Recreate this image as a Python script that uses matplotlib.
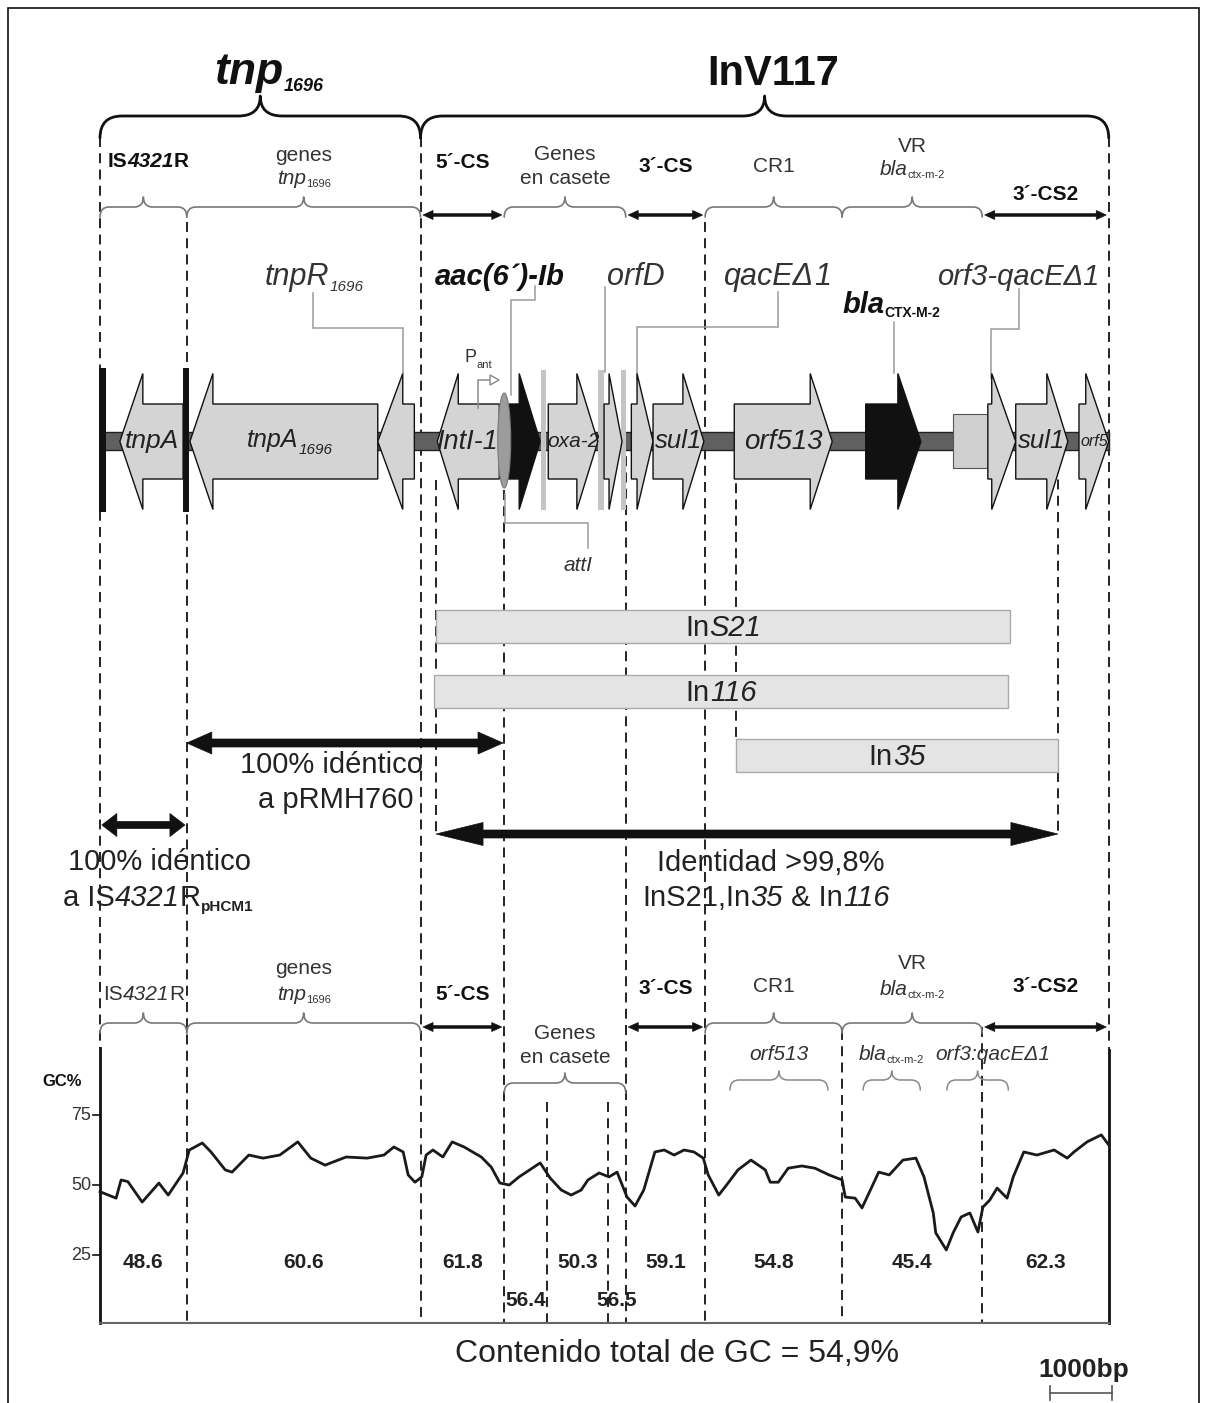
import matplotlib
matplotlib.use('Agg')
import matplotlib.pyplot as plt
from matplotlib.path import Path
from matplotlib.patches import PathPatch, Polygon, Rectangle, Ellipse

# ------------------------------------------------------------------ data
TOTAL_BP = 16270

GENE_LABELS = ['tnpA', 'tnpA|1696', '', 'IntI-1', '', 'oxa-2', '', '', 'sul1',
               'orf513', '', '', 'sul1', 'orf5']
GENE_FROM = [1340, 4480, 5070, 6440, 6580, 7230, 8130, 8570, 8920,
             10230, 12350, 14320, 14770, 15790]
GENE_TO = [320, 1450, 4480, 5440, 7100, 8030, 8420, 8920, 9740,
           11810, 13240, 14770, 15610, 16270]
GENE_DARK = [0, 0, 0, 0, 1, 0, 0, 0, 0, 0, 1, 0, 0, 0]

SITE_FROM = [7110, 8030, 8400]          # grey 59-be bars
SITE_TO = [7190, 8130, 8480]
ATTI_BP = 6520
ORF3_BOX = [13760, 14320]
IS_END_FROM = [-20, 1340]
IS_END_TO = [100, 1430]

ELEMENT_NAMES = ['tnp1696', 'InV117']
ELEMENT_BOUNDS = [0, 5170, 16270]
REGION_BOUNDS = [0, 1400, 5170, 6520, 8480, 9760, 11970, 14230, 16270]
REGION_KIND = ['brace', 'brace', 'arrow', 'brace', 'arrow', 'brace', 'brace', 'arrow']

INTEGRON_NAMES = ['S21', '116', '35']
INTEGRON_FROM = [5420, 5390, 10260]
INTEGRON_TO = [14680, 14650, 15450]

IDENT_FROM = [30, 1400, 5420]
IDENT_TO = [1370, 6500, 15450]

GC_BOUNDS = [0, 1400, 5170, 6520, 7210, 8190, 8480, 9760, 11970, 14230, 16270]
GC_MEANS = [48.6, 60.6, 61.8, 56.4, 50.3, 56.5, 59.1, 54.8, 45.4, 62.3]
GC_TOTAL = '54,9'
GC_TICKS = [75, 50, 25]
SUB_FROM = [10160, 12310, 13660]
SUB_TO = [11740, 13230, 14650]

GC_POS = [0, 260, 340, 450, 680, 950, 1100, 1340, 1440, 1650, 1790, 2020, 2130,
          2400, 2630, 2900, 3190, 3400, 3630, 3970, 4310, 4580, 4740, 4890, 4970,
          5080, 5190, 5260, 5370, 5530, 5680, 5870, 6150, 6310, 6450, 6600, 6760,
          7100, 7260, 7440, 7600, 7760, 7870, 8050, 8210, 8340, 8500, 8630, 8770,
          8950, 9100, 9260, 9420, 9580, 9730, 9810, 9980, 10130, 10290, 10500,
          10730, 10810, 10940, 11100, 11320, 11530, 11760, 11970, 12020, 12180,
          12290, 12400, 12560, 12730, 12950, 13160, 13290, 13440, 13480, 13650,
          13760, 13890, 14030, 14160, 14240, 14350, 14470, 14630, 14730, 14900,
          15110, 15390, 15600, 15710, 15920, 16150, 16270]
GC_VAL = [47.6, 45.3, 51.8, 51.2, 43.9, 50.7, 46.4, 54.3, 62.5, 65.0, 61.8, 55.4,
          54.6, 60.7, 59.6, 60.7, 65.4, 59.6, 57.1, 60.0, 59.6, 60.7, 63.6, 61.8,
          53.6, 51.0, 52.9, 60.7, 62.5, 60.0, 65.4, 63.6, 60.0, 56.4, 50.7, 50.0,
          52.9, 57.9, 52.5, 48.2, 46.4, 48.2, 51.8, 54.3, 52.9, 54.6, 45.7, 42.5,
          48.2, 61.8, 62.5, 60.7, 62.5, 61.8, 59.6, 53.6, 46.4, 50.7, 55.4, 58.9,
          55.4, 51.0, 51.0, 56.0, 56.8, 56.0, 53.6, 51.8, 45.7, 45.3, 41.8, 47.0,
          54.6, 53.6, 58.9, 59.6, 52.9, 40.0, 32.9, 26.8, 32.9, 38.6, 40.0, 33.2,
          42.1, 44.6, 48.9, 45.3, 52.9, 61.8, 60.7, 62.5, 59.6, 61.8, 65.4, 67.9,
          64.3]

# ------------------------------------------------------------------ layout
W, H = 1207, 1403
PX = 62.0          # pixels per kb
X0 = 100.0         # pixel column of bp 0
plt.rcParams['font.family'] = ['Liberation Sans', 'DejaVu Sans']


def kb(bp):
    return bp / 1000.0


def col(px):
    return (px - X0) / PX


def gcy(v):
    return 1185 - (v - 50) * 2.8


fig = plt.figure(figsize=(W / 100, H / 100), dpi=100)
ax = fig.add_axes([0, 0, 1, 1])
ax.set_xlim(col(0), col(W))
ax.set_ylim(H, 0)
ax.axis('off')
REND = fig.canvas.get_renderer()


def rich(x, y, parts, ha='center', color='#111'):
    objs, total = [], 0.0
    for s, kw in parts:
        kw = dict(kw)
        dy = kw.pop('dy', 0)
        kw.setdefault('color', color)
        t = ax.text(x, y + dy, s, ha='left', va='baseline', zorder=10, **kw)
        w = t.get_window_extent(REND).width / PX
        objs.append((t, w))
        total += w
    cx = x - total / 2 if ha == 'center' else x
    for t, w in objs:
        t.set_x(cx)
        cx += w


def brace(b0, b1, y, up, down, r, color, lw):
    x0, x1 = kb(b0), kb(b1)
    xt = (x0 + x1) / 2
    rk = r / PX
    verts = [(x0, y + down), (x0, y), (x0 + rk, y), (xt - rk, y), (xt, y), (xt, y - up),
             (xt, y), (xt + rk, y), (x1 - rk, y), (x1, y), (x1, y + down)]
    C3 = Path.CURVE3
    codes = [Path.MOVETO, C3, C3, Path.LINETO, C3, C3, C3, C3, Path.LINETO, C3, C3]
    ax.add_patch(PathPatch(Path(verts, codes), fc='none', ec=color, lw=lw,
                           capstyle='round', joinstyle='round', zorder=6))


def darrow(b0, b1, y, shaft, hl, hw, color='#111'):
    x0, x1 = kb(b0), kb(b1)
    h = hl / PX
    pts = [(x0, y), (x0 + h, y - hw / 2), (x0 + h, y - shaft / 2), (x1 - h, y - shaft / 2),
           (x1 - h, y - hw / 2), (x1, y), (x1 - h, y + hw / 2), (x1 - h, y + shaft / 2),
           (x0 + h, y + shaft / 2), (x0 + h, y + hw / 2)]
    ax.add_patch(Polygon(pts, closed=True, fc=color, ec=color, lw=0.5, zorder=7))


def vdash(bp, y0, y1):
    ax.plot([kb(bp), kb(bp)], [y0, y1], color='#111', lw=1.3,
            ls=(0, (5.5, 3.5)), zorder=1)


def leader(pts):
    ax.plot([col(p[0]) for p in pts], [p[1] for p in pts], color='#9a9a9a',
            lw=1.1, zorder=3, solid_joinstyle='miter')


# ---------------------------------------------------------------- frame
fig.add_artist(Rectangle((8 / W, -0.01), (1199 - 8) / W, 1 - 8 / H + 0.01,
                         transform=fig.transFigure, fill=False, ec='#111', lw=1.2))

# ---------------------------------------------------------------- dashed guides
vdash(REGION_BOUNDS[0], 137, 1048)
vdash(REGION_BOUNDS[1], 222, 1323)
vdash(REGION_BOUNDS[2], 137, 1323)
vdash(INTEGRON_FROM[0], 480, 835)
vdash(REGION_BOUNDS[3], 490, 1323)
vdash(GC_BOUNDS[4], 1102, 1323)
vdash(GC_BOUNDS[5], 1102, 1323)
vdash(REGION_BOUNDS[4], 440, 1323)
vdash(REGION_BOUNDS[5], 222, 1323)
vdash(INTEGRON_FROM[2], 467, 739)
vdash(REGION_BOUNDS[6], 1030, 1323)
vdash(REGION_BOUNDS[7], 1027, 1323)
vdash(INTEGRON_TO[2], 447, 835)
vdash(REGION_BOUNDS[8], 137, 1050)

# ---------------------------------------------------------------- top braces
for i, name in enumerate(ELEMENT_NAMES):
    brace(ELEMENT_BOUNDS[i], ELEMENT_BOUNDS[i + 1], 116, 20, 22, 22, '#111', 2.0)
rich(col(269), 84, [('tnp', dict(size=32, weight='bold', style='italic')),
                    ('1696', dict(size=13, weight='bold', style='italic', dy=7))])
ax.text(col(773), 85, 'InV117', size=30, weight='bold', ha='center', va='baseline',
        color='#111')


def region_marks(y_brace, y_arrow, casete_y=None):
    for i, kind in enumerate(REGION_KIND):
        b0, b1 = REGION_BOUNDS[i], REGION_BOUNDS[i + 1]
        if kind == 'brace':
            yy = casete_y if (i == 3 and casete_y is not None) else y_brace
            brace(b0, b1, yy, 10, 10, 9, '#777', 1.2)
        else:
            darrow(b0 + 40, b1 - 40, y_arrow, 2.6, 10, 9)


def rc(i):
    return kb((REGION_BOUNDS[i] + REGION_BOUNDS[i + 1]) / 2)


# level-2 top
region_marks(207, 215)
B = dict(size=15, weight='bold')
N = dict(size=15)
NI = dict(size=15, style='italic')
rich(rc(0) + col(148) - col(143), 167, [('IS', B), ('4321', dict(B, style='italic')), ('R', B)])
rich(rc(1), 161, [('genes', N)], color='#333')
rich(rc(1), 184, [('tnp', NI), ('1696', dict(size=8, dy=3))], color='#333')
rich(rc(2), 168, [('5´-CS', B)])
rich(rc(3), 160, [('Genes', N)], color='#333')
rich(rc(3), 184, [('en casete', N)], color='#333')
rich(rc(4), 172, [('3´-CS', B)])
rich(rc(5), 172, [('CR1', N)], color='#333')
rich(rc(6), 152, [('VR', N)], color='#333')
rich(rc(6), 175, [('bla', NI), ('ctx-m-2', dict(size=8, dy=3))], color='#333')
rich(rc(7), 200, [('3´-CS2', B)])

# ---------------------------------------------------------------- gene map
YC, BH, HH = 441.5, 37.5, 68
ax.add_patch(Rectangle((kb(0), 432), kb(TOTAL_BP), 18, fc='#606060', ec='#222',
                       lw=1, zorder=2))
for a, b in zip(SITE_FROM, SITE_TO):
    ax.add_patch(Rectangle((kb(a), 370), kb(b - a), 140, fc='#c4c4c4', ec='none', zorder=3))
ax.add_patch(Rectangle((kb(ORF3_BOX[0]), 414), kb(ORF3_BOX[1] - ORF3_BOX[0]), 54,
                       fc='#cfcfcf', ec='#555', lw=0.8, zorder=3))
HEAD_PX = [23, 23, 25, 21, 21, 21, 13, 16, 21, 22, 23, 24, 21, 23]
LABEL_SIZE = {'tnpA': 19, 'tnpA|1696': 18, 'IntI-1': 19.5, 'oxa-2': 15, 'sul1': 18.5,
              'orf513': 20, 'orf5': 11.5}
for i in range(len(GENE_FROM)):
    f, t = kb(GENE_FROM[i]), kb(GENE_TO[i])
    s = 1 if t > f else -1
    hb = t - s * HEAD_PX[i] / PX
    pts = [(f, YC - BH), (hb, YC - BH), (hb, YC - HH), (t, YC), (hb, YC + HH),
           (hb, YC + BH), (f, YC + BH)]
    dark = GENE_DARK[i]
    ax.add_patch(Polygon(pts, closed=True, fc='#111' if dark else '#d4d4d4',
                         ec='#111', lw=1.0, zorder=4, joinstyle='miter'))
    lab = GENE_LABELS[i]
    if lab:
        cx = (f + t) / 2
        sz = LABEL_SIZE[lab]
        if '|' in lab:
            m, sub = lab.split('|')
            rich(cx + 0.1, YC + 6, [(m, dict(size=sz, style='italic')),
                                    (sub, dict(size=11, style='italic', dy=6))], color='#222')
        else:
            rich(cx, YC + sz * 0.36, [(lab, dict(size=sz, style='italic'))], color='#222')
for a, b in zip(IS_END_FROM, IS_END_TO):
    ax.add_patch(Rectangle((kb(a), 368), kb(b - a), 144, fc='#111', ec='none', zorder=5))
ax.add_patch(Ellipse((kb(ATTI_BP), 440.5), 13 / PX, 95, fc='#9c9c9c', ec='#7a7a7a',
                     lw=0.8, zorder=5))

# promoter P_ant
ax.plot([col(478), col(478), col(491)], [408, 380, 380], color='#8a8a8a', lw=1.1, zorder=6)
ax.add_patch(Polygon([(col(490), 375), (col(499), 380), (col(490), 385)], closed=True,
                     fc='white', ec='#8a8a8a', lw=1.0, zorder=6))
rich(col(478), 362, [('P', dict(size=13)), ('ant', dict(size=8, dy=6))], color='#333')

# gene annotations + leader lines
leader([(313, 293), (313, 328), (403, 328), (403, 373)])
rich(col(314), 285, [('tnpR', dict(size=22, style='italic')),
                     ('1696', dict(size=11, style='italic', dy=6))], color='#333')
leader([(535, 286), (535, 300), (511, 300), (511, 395)])
rich(col(500), 285, [('aac(6´)-Ib', dict(size=21, style='italic', weight='bold'))])
leader([(604.5, 287), (604.5, 372)])
rich(col(636), 285, [('orfD', dict(size=22, style='italic'))], color='#333')
leader([(778, 292), (778, 327), (637, 327), (637, 380)])
rich(col(778), 285, [('qacE\u0394', dict(size=22, style='italic')),
                     ('1', dict(size=22, style='italic'))], color='#333')
leader([(894, 322), (894, 373)])
rich(col(891), 313, [('bla', dict(size=21, style='italic', weight='bold')),
                     ('CTX-M-2', dict(size=10, weight='bold', dy=4))])
leader([(1019, 289), (1019, 329), (991, 329), (991, 378)])
rich(col(1018), 285, [('orf3-qacE\u03941', dict(size=21, style='italic'))], color='#333')
leader([(505, 494), (505, 523), (588, 523), (588, 548)])
rich(col(578), 571, [('attI', dict(size=15, style='italic'))], color='#333')

# ---------------------------------------------------------------- integrons
INT_Y = [610, 675, 739]
for i, nm in enumerate(INTEGRON_NAMES):
    a, b = kb(INTEGRON_FROM[i]), kb(INTEGRON_TO[i])
    ax.add_patch(Rectangle((a, INT_Y[i]), b - a, 33, fc='#e4e4e4', ec='#aaaaaa',
                           lw=1.0, zorder=2))
    rich((a + b) / 2, INT_Y[i] + 26, [('In', dict(size=21)),
                                       (nm, dict(size=21, style='italic'))],
         color='#222')

# ---------------------------------------------------------------- identity arrows
darrow(IDENT_FROM[0], IDENT_TO[0], 825, 7, 15, 23)
darrow(IDENT_FROM[1], IDENT_TO[1], 743, 8, 25, 22)
darrow(IDENT_FROM[2], IDENT_TO[2], 834, 8, 47, 23)
R = dict(size=21)
rich(col(331), 773, [('100% idéntico', R)], color='#222')
rich(col(336), 808, [('a pRMH760', R)], color='#222')
rich(col(160), 870, [('100% idéntico', R)], color='#222')
rich(col(158), 906, [('a IS', R), ('4321', dict(R, style='italic')), ('R', R),
                     ('pHCM1', dict(size=11, weight='bold', dy=5))], color='#222')
rich(col(771), 871, [('Identidad >99,8%', R)], color='#222')
rich(col(766), 906, [('InS21,In', R), ('35', dict(R, style='italic')), (' & In', R),
                     ('116', dict(R, style='italic'))], color='#222')

# ---------------------------------------------------------------- lower region labels
region_marks(1023, 1027, casete_y=1083)
rich(rc(0), 1000, [('IS', N), ('4321', NI), ('R', N)], color='#333')
rich(rc(1), 974, [('genes', N)], color='#333')
rich(rc(1), 1000, [('tnp', NI), ('1696', dict(size=8, dy=3))], color='#333')
rich(rc(2), 1000, [('5´-CS', B)])
rich(rc(3), 1039, [('Genes', N)], color='#333')
rich(rc(3), 1063, [('en casete', N)], color='#333')
rich(rc(4), 994, [('3´-CS', B)])
rich(rc(5), 992, [('CR1', N)], color='#333')
rich(rc(6), 969, [('VR', N)], color='#333')
rich(rc(6), 995, [('bla', NI), ('ctx-m-2', dict(size=8, dy=3))], color='#333')
rich(rc(7), 992, [('3´-CS2', B)])
SUB_PARTS = [[('orf513', NI)],
             [('bla', NI), ('ctx-m-2', dict(size=8, dy=3))],
             [('orf3:qacE\u03941', NI)]]
for i in range(3):
    brace(SUB_FROM[i], SUB_TO[i], 1080, 9, 10, 9, '#888', 1.1)
    rich(kb((SUB_FROM[i] + SUB_TO[i]) / 2) + (0.25 if i == 2 else 0), 1060, SUB_PARTS[i],
         color='#333')

# ---------------------------------------------------------------- GC panel
ax.plot([kb(0), kb(0)], [1048, 1323], color='#111', lw=2.0, zorder=5)
ax.plot([kb(TOTAL_BP), kb(TOTAL_BP)], [1050, 1323], color='#111', lw=2.0, zorder=5)
ax.plot([kb(0), kb(TOTAL_BP)], [1323, 1323], color='#666', lw=1.5, zorder=5)
for v in GC_TICKS:
    ax.plot([col(93), kb(0)], [gcy(v), gcy(v)], color='#111', lw=1.2, zorder=5)
    ax.text(col(91), gcy(v), str(v), ha='right', va='center', size=13, color='#333')
ax.text(col(62), 1082, 'GC%', ha='center', va='center', size=12, weight='bold', color='#111')
ax.plot([kb(p) for p in GC_POS], [gcy(v) for v in GC_VAL], color='#1a1a1a', lw=2.0,
        zorder=6)
for i, m in enumerate(GC_MEANS):
    cx = kb((GC_BOUNDS[i] + GC_BOUNDS[i + 1]) / 2)
    yy = 1306 if i in (3, 5) else 1268
    ax.text(cx, yy, f'{m:.1f}', ha='center', va='baseline', size=15, weight='bold',
            color='#222', zorder=7)

rich(col(677), 1362, [('Contenido total de GC = ' + GC_TOTAL + '%', dict(size=23))],
     color='#222')
ax.text(col(1084), 1377, '1000bp', ha='center', va='baseline', size=19, weight='bold',
        color='#222')
sb0 = col(1112) - 1.0
ax.plot([sb0, sb0 + 1.0], [1393, 1393], color='#555', lw=1.2)
ax.plot([sb0, sb0], [1386, 1400], color='#555', lw=1.2)
ax.plot([sb0 + 1.0, sb0 + 1.0], [1386, 1400], color='#555', lw=1.2)

fig.savefig('out.png', dpi=100)
